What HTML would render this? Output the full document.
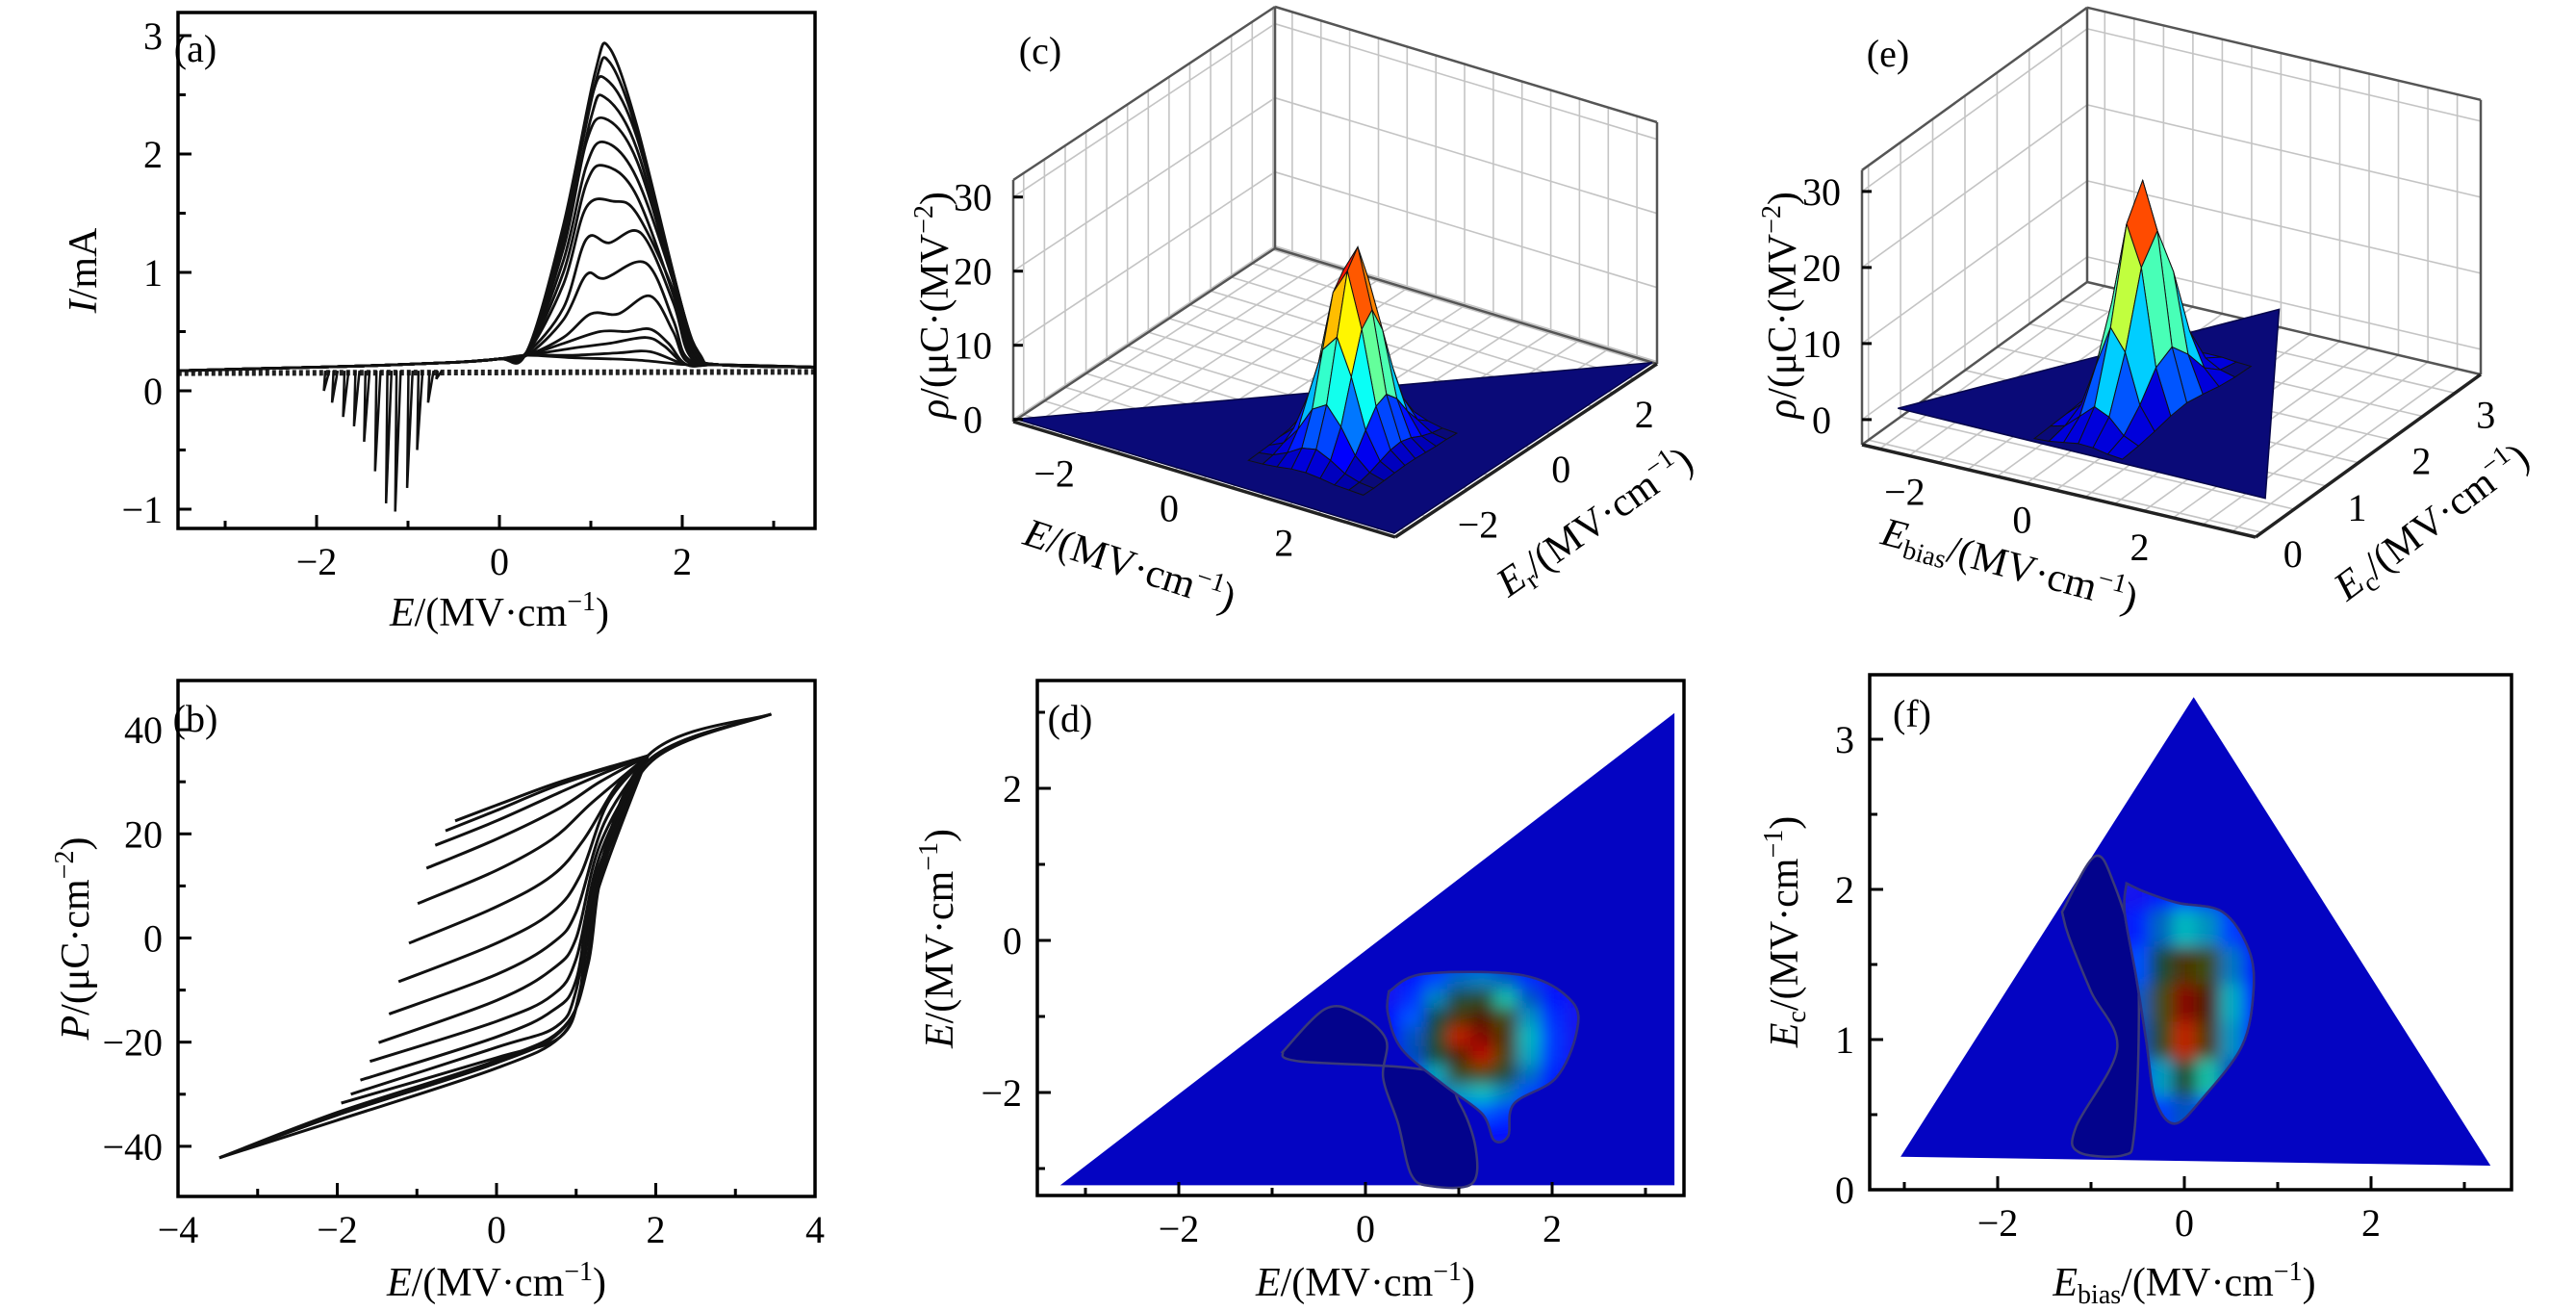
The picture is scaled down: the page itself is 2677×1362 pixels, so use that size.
<!DOCTYPE html>
<html><head><meta charset="utf-8"><title>Switching current, polarization and FORC distributions</title>
<style>
html,body{margin:0;padding:0;background:#fff;}
svg, svg text{font-family:"Liberation Serif","DejaVu Serif",serif;}
svg{display:block;}
</style></head>
<body>
<svg id="fig" xmlns="http://www.w3.org/2000/svg" width="2677" height="1362" viewBox="0 0 2677 1362" font-family="Liberation Serif, DejaVu Serif, serif">
<defs>
<filter id="blur5" x="-30%" y="-30%" width="160%" height="160%"><feGaussianBlur stdDeviation="8"/></filter>
</defs>
<g id="pa"></g>
<g id="pb"></g>
<g id="pc"></g>
<g id="pd"></g>
<g id="pe"></g>
<g id="pf"></g>

<g font-size="40" fill="#000">
<text x="203" y="64" text-anchor="middle">(a)</text>
<text x="203" y="760" text-anchor="middle">(b)</text>
<text x="1081" y="66" text-anchor="middle">(c)</text>
<text x="1112" y="760" text-anchor="middle">(d)</text>
<text x="1962" y="69" text-anchor="middle">(e)</text>
<text x="1987" y="755" text-anchor="middle">(f)</text>
</g>
<g font-size="42" fill="#000">
<text x="519" y="650" text-anchor="middle"><tspan font-style="italic">E</tspan>/(MV·cm<tspan font-size="28" dy="-16">−1</tspan><tspan dy="16">)</tspan></text>
<text transform="translate(100,281) rotate(-90)" text-anchor="middle"><tspan font-style="italic">I</tspan>/mA</text>
<text x="516" y="1346" text-anchor="middle"><tspan font-style="italic">E</tspan>/(MV·cm<tspan font-size="28" dy="-16">−1</tspan><tspan dy="16">)</tspan></text>
<text transform="translate(92,975) rotate(-90)" text-anchor="middle"><tspan font-style="italic">P</tspan>/(μC·cm<tspan font-size="28" dy="-16">−2</tspan><tspan dy="16">)</tspan></text>
<text x="1419" y="1346" text-anchor="middle"><tspan font-style="italic">E</tspan>/(MV·cm<tspan font-size="28" dy="-16">−1</tspan><tspan dy="16">)</tspan></text>
<text transform="translate(990,975) rotate(-90)" text-anchor="middle"><tspan font-style="italic">E</tspan>/(MV·cm<tspan font-size="28" dy="-16">−1</tspan><tspan dy="16">)</tspan></text>
<text x="2270" y="1346" text-anchor="middle"><tspan font-style="italic">E</tspan><tspan font-size="28" dy="8">bias</tspan><tspan dy="-8">/(MV·cm</tspan><tspan font-size="28" dy="-16">−1</tspan><tspan dy="16">)</tspan></text>
<text transform="translate(1868,968) rotate(-90)" text-anchor="middle"><tspan font-style="italic">E</tspan><tspan font-size="28" dy="8">c</tspan><tspan dy="-8">/(MV·cm</tspan><tspan font-size="28" dy="-16">−1</tspan><tspan dy="16">)</tspan></text>
<text transform="translate(985,317) rotate(-90)" text-anchor="middle"><tspan font-style="italic">ρ</tspan>/(μC·(MV<tspan font-size="28" dy="-16">−2</tspan><tspan dy="16">)</tspan></text>
<text transform="translate(1170,600) rotate(18)" text-anchor="middle"><tspan font-style="italic">E</tspan>/(MV·cm<tspan font-size="28" dy="-16">−1</tspan><tspan dy="16">)</tspan></text>
<text transform="translate(1665,553) rotate(-35)" text-anchor="middle"><tspan font-style="italic">E</tspan><tspan font-size="28" dy="8">r</tspan><tspan dy="-8">/(MV·cm</tspan><tspan font-size="28" dy="-16">−1</tspan><tspan dy="16">)</tspan></text>
<text transform="translate(1866,317) rotate(-90)" text-anchor="middle"><tspan font-style="italic">ρ</tspan>/(μC·(MV<tspan font-size="28" dy="-16">−2</tspan><tspan dy="16">)</tspan></text>
<text transform="translate(2085,600) rotate(15)" text-anchor="middle"><tspan font-style="italic">E</tspan><tspan font-size="28" dy="8">bias</tspan><tspan dy="-8">/(MV·cm</tspan><tspan font-size="28" dy="-16">−1</tspan><tspan dy="16">)</tspan></text>
<text transform="translate(2535,553) rotate(-37)" text-anchor="middle"><tspan font-style="italic">E</tspan><tspan font-size="28" dy="8">c</tspan><tspan dy="-8">/(MV·cm</tspan><tspan font-size="28" dy="-16">−1</tspan><tspan dy="16">)</tspan></text>
</g>
</svg>
<script>
// ---------------- DATA ----------------
const aBaseE=[-3.5,-2.5,-1.5,-0.5,0.0];
const aBaseI=[0.17,0.19,0.21,0.24,0.27];
const aTailE=[2.4,3.45];
const aTailI=[0.22,0.2];
const aPeakCurves=[
 [[0.3,0.3],[0.8,0.28],[1.5,0.26],[2.05,0.22]],
 [[0.3,0.3],[0.8,0.3],[1.3,0.32],[1.65,0.33],[2.05,0.22]],
 [[0.3,0.3],[0.8,0.36],[1.2,0.4],[1.6,0.45],[1.8,0.38],[2.05,0.22]],
 [[0.3,0.3],[0.7,0.4],[1.1,0.5],[1.4,0.5],[1.65,0.52],[1.85,0.4],[2.05,0.22]],
 [[0.3,0.3],[0.7,0.45],[1.0,0.65],[1.3,0.65],[1.65,0.8],[1.9,0.5],[2.05,0.25]],
 [[0.3,0.3],[0.7,0.6],[0.95,0.98],[1.15,0.95],[1.6,1.08],[1.9,0.6],[2.05,0.28]],
 [[0.3,0.32],[0.7,0.7],[0.95,1.28],[1.2,1.25],[1.55,1.33],[1.9,0.75],[2.08,0.3]],
 [[0.3,0.32],[0.7,0.9],[0.95,1.55],[1.25,1.6],[1.5,1.5],[1.9,0.85],[2.08,0.3]],
 [[0.3,0.33],[0.7,1.0],[0.95,1.75],[1.15,1.9],[1.5,1.65],[1.95,0.7],[2.1,0.3]],
 [[0.3,0.33],[0.7,1.1],[0.95,1.9],[1.15,2.1],[1.5,1.8],[1.95,0.8],[2.1,0.3]],
 [[0.3,0.33],[0.7,1.2],[0.95,2.1],[1.15,2.3],[1.5,1.95],[1.95,0.8],[2.12,0.3]],
 [[0.3,0.33],[0.7,1.25],[1.0,2.3],[1.15,2.48],[1.5,2.05],[1.98,0.7],[2.15,0.3]],
 [[0.3,0.33],[0.7,1.3],[1.0,2.45],[1.17,2.63],[1.5,2.15],[2.0,0.7],[2.15,0.3]],
 [[0.3,0.33],[0.7,1.35],[1.05,2.6],[1.2,2.78],[1.5,2.2],[2.0,0.7],[2.18,0.3]],
 [[0.3,0.33],[0.7,1.4],[1.05,2.7],[1.2,2.9],[1.5,2.25],[2.0,0.7],[2.2,0.3]]
];
const aRetE=[3.45,-3.5];
const aRetI=[0.16,0.15];
const aSpikeE=[-1.92,-1.83,-1.71,-1.59,-1.48,-1.36,-1.24,-1.14,-1.01,-0.9,-0.78,-0.69];
const aSpikeMin=[0.0,-0.1,-0.22,-0.3,-0.43,-0.68,-0.95,-1.02,-0.82,-0.5,-0.1,0.1];
const aXTicks=[-2,0,2], aXLabels=["−2","0","2"], aXMinor=[-3,-1,1,3];
const aYTicks=[-1,0,1,2,3], aYLabels=["−1","0","1","2","3"], aYMinor=[-0.5,0.5,1.5,2.5];

const bCurves=[
 [[-0.52,22.5],[0,25.5],[0.8,30],[1.9,35]],
 [[-0.64,20.6],[0,24.5],[0.8,29.5],[1.9,35]],
 [[-0.77,17.8],[0,22.5],[0.8,28],[1.4,32],[1.9,35]],
 [[-0.88,13.4],[0,19],[0.8,25],[1.3,30],[1.9,35]],
 [[-0.99,6.6],[0,13],[0.7,19],[1.2,26],[1.9,35]],
 [[-1.1,-1.0],[0,6],[0.7,12],[1.1,19],[1.5,29],[1.9,35]],
 [[-1.23,-8.4],[0,-1],[0.7,5],[1.05,12],[1.4,26],[1.9,35]],
 [[-1.35,-14.6],[0,-7],[0.7,-1],[1.0,5],[1.35,22],[1.9,35]],
 [[-1.48,-20.1],[0,-12],[0.7,-6],[1.0,0],[1.3,18],[1.9,35]],
 [[-1.59,-23.7],[0,-16],[0.7,-11],[1.0,-4],[1.3,16],[1.9,35]],
 [[-1.71,-27.3],[0,-19],[0.7,-14],[1.0,-8],[1.25,12],[1.9,35]],
 [[-1.83,-30.0],[0,-21],[0.75,-17],[1.0,-10],[1.25,10],[1.9,35]],
 [[-1.95,-31.7],[0,-23],[0.8,-19],[1.05,-10],[1.25,8],[1.9,35]],
 [[-3.48,-42.2],[-2,-35],[0,-25],[0.8,-19],[1.05,-10],[1.2,8],[1.9,35],[3.45,43]],
 [[-3.48,-42.2],[-2,-34],[0,-24],[0.8,-18],[1.1,-8],[1.3,12],[1.9,34],[3.45,43]],
 [[-3.48,-42.2],[-2,-33.5],[0,-23.5],[0.85,-17],[1.15,-5],[1.35,14],[1.95,34],[3.45,43]]
];
const bXTicks=[-4,-2,0,2,4], bXLabels=["−4","−2","0","2","4"], bXMinor=[-3,-1,1,3];
const bYTicks=[-40,-20,0,20,40], bYLabels=["−40","−20","0","20","40"], bYMinor=[-30,-10,10,30];

const cE=[0.25,0.5,0.75,1.0,1.25,1.5,1.75,2.0,2.25];
const cEr=[-2.5,-2.25,-2.0,-1.75,-1.5,-1.25,-1.0,-0.75,-0.5,-0.25];
const cRho=[
 [0,0.1,0.3,0.6,0.7,0.5,0.2,0.1,0],
 [0.1,0.4,1.3,2.5,2.9,2.0,0.8,0.2,0],
 [0.2,1.1,3.5,6.8,8.0,5.6,2.3,0.6,0.1],
 [0.4,2.2,7.2,13.9,16.2,11.4,4.8,1.2,0.2],
 [0.6,3.3,10.7,20.7,24.2,16.9,7.1,1.8,0.3],
 [0.7,3.6,11.7,22.8,26.5,18.6,7.8,2.0,0.3],
 [0.5,2.9,9.5,18.3,21.4,15.0,6.3,1.6,0.2],
 [0.3,1.7,5.6,10.9,12.7,8.9,3.7,0.9,0.1],
 [0.1,0.8,2.4,4.7,5.5,3.9,1.6,0.4,0.1],
 [0,0.2,0.8,1.5,1.8,1.2,0.5,0.1,0]
];
const cTriE=[-3.27,3.31,3.31], cTriEr=[-3.22,-3.22,2.99];
const dDarkE=[-0.89,-0.43,-0.09,0.22,0.19,0.35,0.49,0.7,1.14,1.18,1.01,0.7,-0.71];
const dDarkEr=[-1.47,-0.9,-0.96,-1.3,-1.81,-2.41,-3.08,-3.23,-3.2,-2.73,-2.15,-1.72,-1.59];
const dBlobE=[0.25,0.63,1.69,2.21,2.26,2.04,1.59,1.53,1.38,1.25,0.84,0.39,0.24];
const dBlobEr=[-0.67,-0.44,-0.46,-0.8,-1.22,-1.81,-2.15,-2.57,-2.63,-2.28,-1.9,-1.43,-0.96];
const dXTicks=[-2,0,2], dXLabels=["−2","0","2"], dXMinor=[-3,-1,1,3];
const dYTicks=[-2,0,2], dYLabels=["−2","0","2"], dYMinor=[-3,-1,1,3];
const cZTicks=[0,10,20,30], cZLabels=["0","10","20","30"];
const cXTicks=[-2,0,2], cXLabels=["−2","0","2"];
const cYTicks=[-2,0,2], cYLabels=["−2","0","2"];

const eB=[-0.75,-0.5,-0.25,0,0.25,0.5,0.75];
const eC=[0.25,0.5,0.75,1.0,1.25,1.5,1.75,2.0,2.25];
const eRho=[
 [0,0.1,0.4,0.7,0.6,0.2,0],
 [0.1,0.6,2.3,4.0,3.1,1.1,0.2],
 [0.2,1.9,7.4,12.9,10.1,3.6,0.6],
 [0.4,3.7,14.3,25.0,19.7,7.0,1.1],
 [0.5,4.3,16.7,29.2,23.0,8.2,1.3],
 [0.3,3.0,11.7,20.4,16.1,5.7,0.9],
 [0.1,1.3,4.9,8.6,6.8,2.4,0.4],
 [0,0.3,1.2,2.2,1.7,0.6,0.1],
 [0,0,0.2,0.3,0.3,0.1,0]
];
const eTriB=[-3.04,0.1,3.28], eTriC=[0.22,3.28,0.16];
const fDarkB=[-1.31,-0.96,-0.75,-0.52,-0.49,-0.54,-0.65,-1.13,-1.16,-0.72,-1.0,-1.24];
const fDarkC=[1.85,2.22,2.03,1.53,1.0,0.36,0.23,0.25,0.42,0.94,1.32,1.69];
const fBlobB=[-0.62,-0.41,-0.07,0.41,0.69,0.74,0.62,0.21,-0.1,-0.31,-0.41,-0.52,-0.64];
const fBlobC=[2.04,1.98,1.91,1.85,1.6,1.32,0.96,0.62,0.44,0.6,1.0,1.43,1.85];
const fXTicks=[-2,0,2], fXLabels=["−2","0","2"], fXMinor=[-3,-1,1,3];
const fYTicks=[0,1,2,3], fYLabels=["0","1","2","3"], fYMinor=[0.5,1.5,2.5];
const eZTicks=[0,10,20,30], eZLabels=["0","10","20","30"];
const eXTicks=[-2,0,2], eXLabels=["−2","0","2"];
const eYTicks=[0,1,2,3], eYLabels=["0","1","2","3"];

// ---------------- HELPERS ----------------
const NS='http://www.w3.org/2000/svg';
function mk(tag, attrs, parent){const e=document.createElementNS(NS,tag);for(const k in attrs)e.setAttribute(k,attrs[k]);parent.appendChild(e);return e;}
function f(n){return n.toFixed(1);}
function smooth(pts){
  let d='M'+f(pts[0][0])+','+f(pts[0][1]);
  for(let i=0;i<pts.length-1;i++){
    const p0=pts[Math.max(i-1,0)],p1=pts[i],p2=pts[i+1],p3=pts[Math.min(i+2,pts.length-1)];
    const c1=[p1[0]+(p2[0]-p0[0])/6,p1[1]+(p2[1]-p0[1])/6];
    const c2=[p2[0]-(p3[0]-p1[0])/6,p2[1]-(p3[1]-p1[1])/6];
    d+=' C'+f(c1[0])+','+f(c1[1])+' '+f(c2[0])+','+f(c2[1])+' '+f(p2[0])+','+f(p2[1]);
  }
  return d;
}
function clamp(v){return Math.max(0,Math.min(1,v));}
function jet(t){t=clamp(t);const r=clamp(1.5-Math.abs(4*t-3)),g=clamp(1.5-Math.abs(4*t-2)),b=clamp(1.5-Math.abs(4*t-1));return 'rgb('+Math.round(r*255)+','+Math.round(g*255)+','+Math.round(b*255)+')';}
function jetDark(t,k){t=clamp(t);const r=clamp(1.5-Math.abs(4*t-3)),g=clamp(1.5-Math.abs(4*t-2)),b=clamp(1.5-Math.abs(4*t-1));return 'rgb('+Math.round(r*255*k)+','+Math.round(g*255*k)+','+Math.round(b*255*k)+')';}
function linScale(d0,d1,r0,r1){return v=>r0+(v-d0)*(r1-r0)/(d1-d0);}

function axes2D(g, box, sx, sy, xt, xl, xm, yt, yl, ym, name){
  const ax=mk('g',{},g);
  
  
  xt.forEach((v,i)=>{
    const x=sx(v);
    const t=mk('line',{x1:x,x2:x,y1:box.b,y2:box.b-14,stroke:'#000','stroke-width':3},ax);
    
    
    const l=mk('text',{x:x,y:box.b+48,'text-anchor':'middle','font-size':40},ax);
    
    
    l.textContent=xl[i];
  });
  xm.forEach(v=>{
    const x=sx(v);
    const t=mk('line',{x1:x,x2:x,y1:box.b,y2:box.b-8,stroke:'#000','stroke-width':3},ax);
    
    
  });
  yt.forEach((v,i)=>{
    const y=sy(v);
    const t=mk('line',{x1:box.l,x2:box.l+14,y1:y,y2:y,stroke:'#000','stroke-width':3},ax);
    
    
    const l=mk('text',{x:box.l-16,y:y+14,'text-anchor':'end','font-size':40},ax);
    
    
    l.textContent=yl[i];
  });
  ym.forEach(v=>{
    const y=sy(v);
    const t=mk('line',{x1:box.l,x2:box.l+8,y1:y,y2:y,stroke:'#000','stroke-width':3},ax);
    
    
  });
  const r=mk('rect',{x:box.l,y:box.t,width:box.r-box.l,height:box.b-box.t,fill:'none',stroke:'#000','stroke-width':3.5},ax);
  
  
}

// ---------------- PANEL A ----------------
(function(){
  const g=document.getElementById('pa');
  const box={l:185,r:847,t:13,b:549};
  const sx=linScale(0,1,519,614), sy=linScale(0,1,406,283);
  const ret=mk('path',{d:'M'+f(sx(aRetE[0]))+','+f(sy(aRetI[0]))+' L'+f(sx(aRetE[1]))+','+f(sy(aRetI[1])),stroke:'#222','stroke-width':6,'stroke-dasharray':'4 3',fill:'none'},g);
  
  
  aSpikeE.forEach((e,i)=>{
    const p=mk('polyline',{points:f(sx(e+0.06))+','+f(sy(0.17))+' '+f(sx(e))+','+f(sy(aSpikeMin[i]))+' '+f(sx(e+0.015))+','+f(sy(0.17)),stroke:'#111','stroke-width':2.5,fill:'none'},g);
    
    
  });
  aPeakCurves.forEach(c=>{
    const pts=[];
    aBaseE.forEach((e,i)=>pts.push([sx(e),sy(aBaseI[i])]));
    c.forEach(p=>pts.push([sx(p[0]),sy(p[1])]));
    aTailE.forEach((e,i)=>pts.push([sx(e),sy(aTailI[i])]));
    const p=mk('path',{d:smooth(pts),stroke:'#111','stroke-width':2.8,fill:'none','stroke-linejoin':'round'},g);
    
    
  });
  axes2D(g,box,sx,sy,aXTicks,aXLabels,aXMinor,aYTicks,aYLabels,aYMinor,'panel-a');
})();

// ---------------- PANEL B ----------------
(function(){
  const g=document.getElementById('pb');
  const box={l:185,r:847,t:707,b:1243};
  const sx=linScale(0,1,516,598.75), sy=linScale(0,1,974.5,969.09);
  bCurves.forEach(c=>{
    const pts=c.map(p=>[sx(p[0]),sy(p[1])]);
    const p=mk('path',{d:smooth(pts),stroke:'#111','stroke-width':3,fill:'none'},g);
    
    
  });
  axes2D(g,box,sx,sy,bXTicks,bXLabels,bXMinor,bYTicks,bYLabels,bYMinor,'panel-b');
})();

// ---------------- 3D PANELS ----------------
function P3(c,x,y,z){const u=(x-c.x0)/(c.x1-c.x0),v=(y-c.y0)/(c.y1-c.y0);return [c.O[0]+u*c.A[0]+v*c.B[0], c.O[1]+u*c.A[1]+v*c.B[1]-(z-c.zf)*c.kz];}
function pstr(arr){return arr.map(p=>f(p[0])+','+f(p[1])).join(' ');}
function draw3D(g,c,xs,ys,rho,triX,triY,zt,zl,xt,xl,yt,yl,quant,zmax,name){
  const grid=mk('g',{stroke:'#c4c4c4','stroke-width':1.6,fill:'none'},g);
  
  
  const ln=(a,b,par)=>mk('line',{x1:f(a[0]),y1:f(a[1]),x2:f(b[0]),y2:f(b[1])},par);
  for(let x=Math.ceil(c.x0*2)/2;x<=c.x1;x+=0.5){ln(P3(c,x,c.y1,c.zf),P3(c,x,c.y1,c.zt),grid);ln(P3(c,x,c.y0,c.zf),P3(c,x,c.y1,c.zf),grid);}
  for(let y=Math.ceil(c.y0*2)/2;y<=c.y1;y+=0.5){ln(P3(c,c.x0,y,c.zf),P3(c,c.x0,y,c.zt),grid);ln(P3(c,c.x0,y,c.zf),P3(c,c.x1,y,c.zf),grid);}
  zt.forEach(z=>{ln(P3(c,c.x0,c.y0,z),P3(c,c.x0,c.y1,z),grid);ln(P3(c,c.x0,c.y1,z),P3(c,c.x1,c.y1,z),grid);});
  const fr=mk('g',{stroke:'#555','stroke-width':2.5,fill:'none'},g);
  
  
  ln(P3(c,c.x0,c.y0,c.zf),P3(c,c.x0,c.y0,c.zt),fr);
  ln(P3(c,c.x0,c.y1,c.zf),P3(c,c.x0,c.y1,c.zt),fr);
  ln(P3(c,c.x1,c.y1,c.zf),P3(c,c.x1,c.y1,c.zt),fr);
  ln(P3(c,c.x0,c.y0,c.zt),P3(c,c.x0,c.y1,c.zt),fr);
  ln(P3(c,c.x0,c.y1,c.zt),P3(c,c.x1,c.y1,c.zt),fr);
  ln(P3(c,c.x0,c.y0,c.zf),P3(c,c.x0,c.y1,c.zf),fr);
  ln(P3(c,c.x0,c.y1,c.zf),P3(c,c.x1,c.y1,c.zf),fr);
  const fa=mk('g',{stroke:'#222','stroke-width':3.5,fill:'none'},g);
  
  
  ln(P3(c,c.x0,c.y0,c.zf),P3(c,c.x1,c.y0,c.zf),fa);
  ln(P3(c,c.x1,c.y0,c.zf),P3(c,c.x1,c.y1,c.zf),fa);
  const tri=mk('polygon',{points:pstr(triX.map((x,i)=>P3(c,x,triY[i],0))),fill:'#0a0a78',stroke:'#05054a','stroke-width':1.5},g);
  
  
  const cells=[];
  for(let i=0;i<ys.length-1;i++)for(let j=0;j<xs.length-1;j++){
    const v=[rho[i][j],rho[i][j+1],rho[i+1][j+1],rho[i+1][j]];
    const avg=(v[0]+v[1]+v[2]+v[3])/4;
    const pts=[P3(c,xs[j],ys[i],v[0]),P3(c,xs[j+1],ys[i],v[1]),P3(c,xs[j+1],ys[i+1],v[2]),P3(c,xs[j],ys[i+1],v[3])];
    const ctr=P3(c,(xs[j]+xs[j+1])/2,(ys[i]+ys[i+1])/2,c.zf);
    cells.push({pts,avg,depth:ctr[1]});
  }
  cells.sort((a,b)=>a.depth-b.depth);
  const sg=mk('g',{},g);
  
  
  cells.forEach(cl=>{
    let t=cl.avg/zmax; if(quant) t=Math.floor(t*8)/8+1/16;
    const col=cl.avg<0.3?'#0a0a78':jet(t*0.95+0.03);
    const p=mk('polygon',{points:pstr(cl.pts),fill:col,stroke:'#111','stroke-width':1},sg);
    
    
  });
  const tl=mk('g',{'font-size':40,'text-anchor':'middle'},g);
  
  
  zt.forEach((z,i)=>{
    const p=P3(c,c.x0,c.y0,z);
    const tk=mk('line',{x1:f(p[0]),y1:f(p[1]),x2:f(p[0]+10),y2:f(p[1]),stroke:'#000','stroke-width':3},tl);
    
    
    const t=mk('text',{x:f(p[0]-42),y:f(p[1]+14)},tl);
    
    
    t.textContent=zl[i];
  });
  xt.forEach((x,i)=>{
    const p=P3(c,x,c.y0,c.zf);
    const t=mk('text',{x:f(p[0]-35),y:f(p[1]+44)},tl);
    
    
    t.textContent=xl[i];
  });
  yt.forEach((y,i)=>{
    const p=P3(c,c.x1,y,c.zf);
    const t=mk('text',{x:f(p[0]+32),y:f(p[1]+36)},tl);
    
    
    t.textContent=yl[i];
  });
}
const cfgC={x0:-3.3,x1:3.35,y0:-3.25,y1:3.05,O:[1053,438],A:[397,120],B:[272,-180],kz:7.7,zf:-0.3,zt:32.3};
const cfgE={x0:-3.3,x1:3.4,y0:-0.1,y1:3.4,O:[1935,462],A:[409,96],B:[234,-169],kz:7.9,zf:-3.3,zt:32.8};
draw3D(document.getElementById('pc'),cfgC,cE,cEr,cRho,cTriE,cTriEr,cZTicks,cZLabels,cXTicks,cXLabels,cYTicks,cYLabels,false,27,'panel-c');
draw3D(document.getElementById('pe'),cfgE,eB,eC,eRho,eTriB,eTriC,eZTicks,eZLabels,eXTicks,eXLabels,eYTicks,eYLabels,true,30,'panel-e');

// ---------------- CONTOUR PANELS ----------------
function contour2D(g,box,sx,sy,triX,triY,darkX,darkY,blobX,blobY,xs,ys,rho,zmax,name,clipId){
  const tri=mk('polygon',{points:pstr(triX.map((x,i)=>[sx(x),sy(triY[i])])),fill:'#0404c2'},g);
  
  
  const dk=mk('path',{d:smooth(darkX.map((x,i)=>[sx(x),sy(darkY[i])]).concat([[sx(darkX[0]),sy(darkY[0])]]))+' Z',fill:'#03038c',stroke:'#3a3a78','stroke-width':2.5},g);
  
  
  const blobD=smooth(blobX.map((x,i)=>[sx(x),sy(blobY[i])]).concat([[sx(blobX[0]),sy(blobY[0])]]))+' Z';
  const bl=mk('path',{d:blobD,fill:'#1616ee',stroke:'#2e2e80','stroke-width':2.5},g);
  
  
  const defs=document.querySelector('defs');
  const cp=mk('clipPath',{id:clipId},defs);
  mk('path',{d:blobD},cp);
  const hg=mk('g',{'clip-path':'url(#'+clipId+')'},g);
  
  
  const inner=mk('g',{filter:'url(#blur5)'},hg);
  const dx=Math.abs(sx(xs[1])-sx(xs[0])), dy=Math.abs(sy(ys[1])-sy(ys[0]));
  for(let i=0;i<ys.length;i++)for(let j=0;j<xs.length;j++){
    const v=rho[i][j]; if(v<0.5) continue;
    const t=v/zmax;
    const k=t<0.12?1.0:(t<0.35?0.75:(t<0.8?0.3:0.75));
    const r=mk('rect',{x:f(sx(xs[j])-dx/2),y:f(sy(ys[i])-dy/2),width:f(dx+1),height:f(dy+1),fill:jetDark(t*0.85+0.12,k)},inner);
    
    
  }
  const ol=mk('path',{d:blobD,fill:'none',stroke:'#2e2e80','stroke-width':2.5},g);
  
  
}
(function(){
  const g=document.getElementById('pd');
  const box={l:1078,r:1750,t:707,b:1242};
  const sx=linScale(0,1,1419,1516), sy=linScale(0,1,977,898);
  contour2D(g,box,sx,sy,cTriE,cTriEr,dDarkE,dDarkEr,dBlobE,dBlobEr,cE,cEr,cRho,27,'panel-d','clipD');
  axes2D(g,box,sx,sy,dXTicks,dXLabels,dXMinor,dYTicks,dYLabels,dYMinor,'panel-d');
})();
(function(){
  const g=document.getElementById('pf');
  const box={l:1943,r:2610,t:701,b:1236};
  const sx=linScale(0,1,2270,2367), sy=linScale(0,1,1236,1080);
  contour2D(g,box,sx,sy,eTriB,eTriC,fDarkB,fDarkC,fBlobB,fBlobC,eB,eC,eRho,30,'panel-f','clipF');
  axes2D(g,box,sx,sy,fXTicks,fXLabels,fXMinor,fYTicks,fYLabels,fYMinor,'panel-f');
})();
</script>
</body></html>
